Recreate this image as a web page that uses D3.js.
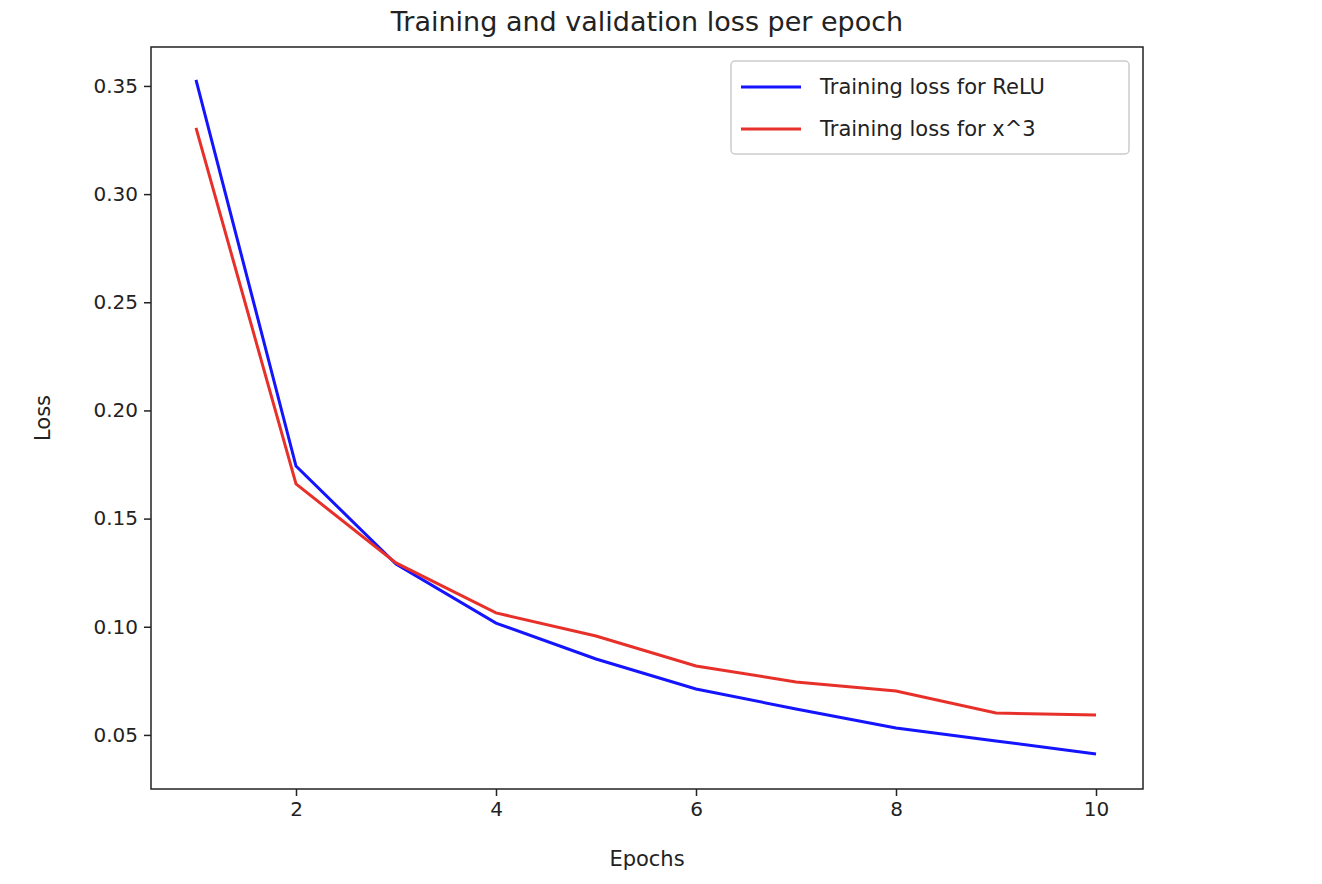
<!DOCTYPE html>
<html>
<head>
<meta charset="utf-8">
<script src="https://cdn.jsdelivr.net/npm/d3@7"></script>
<style>
  body { margin: 0; background: #fff; }
  text { font-family: "DejaVu Sans", sans-serif; fill: #222; }
</style>
</head>
<body>
<div id="chart"></div>
<script>
const epochs = [1, 2, 3, 4, 5, 6, 7, 8, 9, 10];
const reluLoss = [0.3528, 0.1743, 0.129, 0.1017, 0.0851, 0.0712, 0.062, 0.0532, 0.0472, 0.0412];
const cubeLoss = [0.3306, 0.166, 0.1295, 0.1064, 0.0957, 0.0819, 0.0745, 0.0703, 0.0601, 0.0592];
const xTicks = [2, 4, 6, 8, 10];
const yTicks = [0.05, 0.10, 0.15, 0.20, 0.25, 0.30, 0.35];

const width = 1322, height = 884;
const plotLeft = 151, plotRight = 1143, plotTop = 47, plotBottom = 789;

const svg = d3.select("#chart").append("svg")
  .attr("width", width)
  .attr("height", height);

const x = d3.scaleLinear().domain([0.55, 10.47]).range([plotLeft, plotRight]);
const y = d3.scaleLinear().domain([0.025, 0.368]).range([plotBottom, plotTop]);

// axes
const xAxis = svg.append("g")
  .attr("transform", `translate(0,${plotBottom})`)
  .call(d3.axisBottom(x).tickValues(xTicks).tickSize(7).tickPadding(6).tickFormat(d3.format("d")));
const yAxis = svg.append("g")
  .attr("transform", `translate(${plotLeft},0)`)
  .call(d3.axisLeft(y).tickValues(yTicks).tickSize(7).tickPadding(6).tickFormat(d3.format(".2f")));
[xAxis, yAxis].forEach(g => {
  g.select(".domain").remove();
  g.selectAll("line").attr("stroke", "#222").attr("stroke-width", 1.5);
  g.selectAll("text").style("font-size", "20px").style("font-family", "DejaVu Sans, sans-serif").attr("fill", "#222");
});

const line = d3.line().x((d, i) => x(epochs[i])).y(d => y(d));

svg.append("path").datum(reluLoss)
  .attr("d", line).attr("fill", "none")
  .attr("stroke", "#1414ff").attr("stroke-width", 3);
svg.append("path").datum(cubeLoss)
  .attr("d", line).attr("fill", "none")
  .attr("stroke", "#e8302a").attr("stroke-width", 3);

// frame
svg.append("rect")
  .attr("x", plotLeft).attr("y", plotTop)
  .attr("width", plotRight - plotLeft).attr("height", plotBottom - plotTop)
  .attr("fill", "none").attr("stroke", "#222").attr("stroke-width", 1.5);

// title and labels
svg.append("text").attr("x", (plotLeft + plotRight) / 2).attr("y", 31)
  .attr("text-anchor", "middle").style("font-size", "27px")
  .text("Training and validation loss per epoch");
svg.append("text").attr("x", (plotLeft + plotRight) / 2).attr("y", 866)
  .attr("text-anchor", "middle").style("font-size", "21px")
  .text("Epochs");
svg.append("text")
  .attr("transform", `translate(50,${(plotTop + plotBottom) / 2}) rotate(-90)`)
  .attr("text-anchor", "middle").style("font-size", "21px")
  .text("Loss");

// legend
const legend = svg.append("g");
legend.append("rect")
  .attr("x", 731).attr("y", 61).attr("width", 398).attr("height", 93).attr("rx", 4)
  .attr("fill", "#fff").attr("stroke", "#ccc").attr("stroke-width", 1.5);
const entries = [["Training loss for ReLU", "#1414ff"], ["Training loss for x^3", "#e8302a"]];
entries.forEach(([label, color], i) => {
  const yy = 87 + i * 42;
  legend.append("line").attr("x1", 741).attr("x2", 801).attr("y1", yy).attr("y2", yy)
    .attr("stroke", color).attr("stroke-width", 3);
  legend.append("text").attr("x", 820).attr("y", yy + 7)
    .style("font-size", "21px").text(label);
});
</script>
</body>
</html>
